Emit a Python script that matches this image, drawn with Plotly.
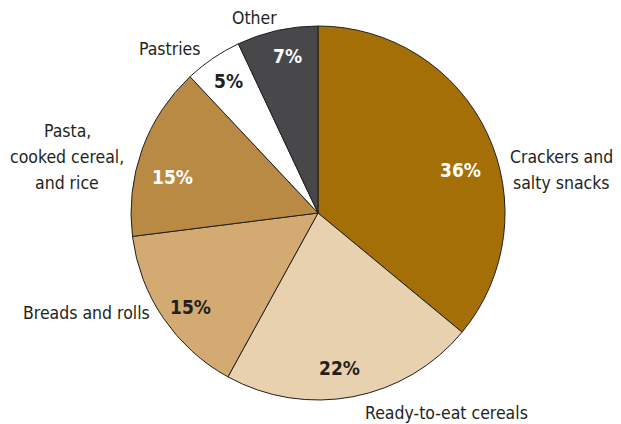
import plotly.graph_objects as go

categories = ["Crackers and salty snacks", "Ready-to-eat cereals", "Breads and rolls",
              "Pasta, cooked cereal, and rice", "Pastries", "Other"]
values = [36, 22, 15, 15, 5, 7]
pct_labels = ["36%", "22%", "15%", "15%", "5%", "7%"]
display_lines = [["Crackers and", "salty snacks"], ["Ready-to-eat cereals"], ["Breads and rolls"],
                 ["Pasta,", "cooked cereal,", "and rice"], ["Pastries"], ["Other"]]
colors = ["#A36F06", "#E8D1AF", "#D2AA72", "#B98A44", "#FFFFFF", "#48474A"]
pct_colors = ["#FFFFFF", "#231F20", "#231F20", "#FFFFFF", "#231F20", "#FFFFFF"]

# label positions in pixels (x, y of first line from top)
name_pos = [(561, 157), (446, 413), (86, 313), (67, 131), (169, 49), (254, 18)]
pct_pos = [(460, 170), (339, 368), (190, 307), (172, 177), (228, 81), (287, 56)]
LINE_GAP = 26

W, H = 621, 424
FONT = "DejaVu Sans Condensed, Liberation Sans Narrow, sans-serif"

cx, cy, r = 318, 213, 187

fig = go.Figure(go.Pie(
    labels=categories,
    values=values,
    sort=False,
    direction="clockwise",
    rotation=0,
    marker=dict(colors=colors, line=dict(color="#231F20", width=1)),
    textinfo="none",
    hoverinfo="none",
    showlegend=False,
    domain=dict(x=[(cx - r) / W, (cx + r) / W], y=[(H - cy - r) / H, (H - cy + r) / H]),
))

ann = []
for lines, (px, py) in zip(display_lines, name_pos):
    for i, line in enumerate(lines):
        ann.append(dict(text=line, x=px / W, y=1 - (py + i * LINE_GAP) / H, xref="paper", yref="paper",
                        showarrow=False, xanchor="center", yanchor="middle", align="center",
                        font=dict(family=FONT, size=17.5, color="#231F20")))
for t, c, (px, py) in zip(pct_labels, pct_colors, pct_pos):
    ann.append(dict(text="<b>" + t + "</b>", x=px / W, y=1 - py / H, xref="paper", yref="paper",
                    showarrow=False, xanchor="center", yanchor="middle",
                    font=dict(family=FONT, size=19, color=c)))

fig.update_layout(width=W, height=H, margin=dict(l=0, r=0, t=0, b=0),
                  paper_bgcolor="white", plot_bgcolor="white", annotations=ann)
fig.write_html("out.html")
